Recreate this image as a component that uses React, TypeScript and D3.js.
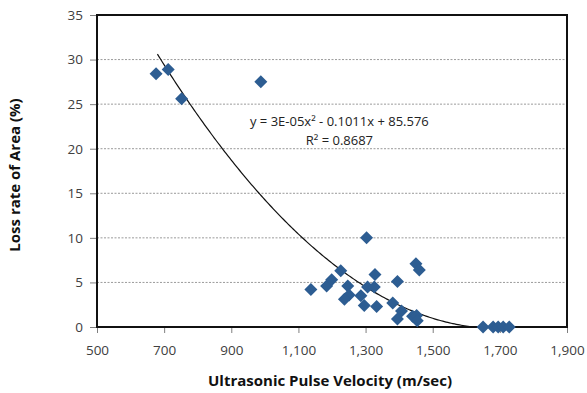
import React, { useEffect, useRef } from "react";
import * as d3 from "d3";

// velocity (m/sec) and loss rate (%)
const velocity = [
  676, 712, 752, 988,
  1137, 1184, 1199, 1226, 1247, 1251, 1237, 1286, 1296, 1303, 1306, 1326, 1328, 1333,
  1381, 1395, 1407, 1395, 1450, 1460, 1440, 1452, 1454,
  1650, 1680, 1695, 1710, 1728,
];
const lossRate = [
  28.4, 28.9, 25.6, 27.5,
  4.2, 4.6, 5.3, 6.3, 4.6, 3.6, 3.1, 3.5, 2.4, 10.0, 4.5, 4.5, 5.9, 2.3,
  2.7, 5.1, 1.8, 0.9, 7.1, 6.4, 1.2, 1.3, 0.7,
  0, 0, 0, 0, 0,
];

const xTicks = [500, 700, 900, 1100, 1300, 1500, 1700, 1900];
const yTicks = [0, 5, 10, 15, 20, 25, 30, 35];

// polynomial trendline (Excel shows the rounded form)
const trend = { a: 2.98e-5, b: -0.1011, c: 85.576 };
const trendLabel = "y = 3E-05x² - 0.1011x + 85.576";
const r2Label = "R² = 0.8687";

const W = 587;
const H = 393;
const margin = { top: 15, right: 20, bottom: 66, left: 97 };

export default function App() {
  const ref = useRef<SVGSVGElement>(null);

  useEffect(() => {
    const svg = d3.select(ref.current);
    svg.selectAll("*").remove();

    const innerW = W - margin.left - margin.right;
    const innerH = H - margin.top - margin.bottom;

    const x = d3.scaleLinear().domain([500, 1900]).range([0, innerW]);
    const y = d3.scaleLinear().domain([0, 35]).range([innerH, 0]);

    const g = svg.append("g").attr("transform", `translate(${margin.left},${margin.top})`);
    const font = "'Open Sans', sans-serif";

    // gridlines
    g.selectAll("line.grid")
      .data(yTicks.filter((t) => t > 0 && t < 35))
      .enter()
      .append("line")
      .attr("x1", 0)
      .attr("x2", innerW)
      .attr("y1", (d) => y(d))
      .attr("y2", (d) => y(d))
      .attr("stroke", "#9a9a9a")
      .attr("stroke-width", 1)
      .attr("stroke-dasharray", "2,1.5");

    // y axis
    const yAxis = g.append("g").call(d3.axisLeft(y).tickValues(yTicks).tickSize(7).tickSizeOuter(0));
    yAxis.select(".domain").remove();
    yAxis.selectAll(".tick line").attr("stroke", "#7f7f7f");
    yAxis
      .selectAll("text")
      .attr("x", -14)
      .attr("font-family", font)
      .attr("font-size", 13.5)
      .attr("fill", "#404040");

    // x axis
    const xAxis = g
      .append("g")
      .attr("transform", `translate(0,${innerH})`)
      .call(d3.axisBottom(x).tickValues(xTicks).tickSize(6).tickSizeOuter(0).tickFormat(d3.format(",")));
    xAxis.select(".domain").remove();
    xAxis.selectAll(".tick line").attr("stroke", "#7f7f7f");
    xAxis
      .selectAll("text")
      .attr("y", 18)
      .attr("font-family", font)
      .attr("font-size", 13.5)
      .attr("fill", "#404040");

    // frame
    g.append("rect")
      .attr("x", 0)
      .attr("y", 0)
      .attr("width", innerW)
      .attr("height", innerH)
      .attr("fill", "none")
      .attr("stroke", "#111")
      .attr("stroke-width", 2);

    // trendline, clipped to y >= 0
    const xs = d3.range(680, 1730, 5);
    const pts: [number, number][] = xs
      .map((v) => [v, trend.a * v * v + trend.b * v + trend.c] as [number, number])
      .filter((p) => p[1] >= -0.05);
    g.append("path")
      .datum(pts)
      .attr("fill", "none")
      .attr("stroke", "#111")
      .attr("stroke-width", 1.2)
      .attr("d", d3.line<[number, number]>().x((d) => x(d[0])).y((d) => y(Math.max(0, d[1]))));

    // markers: square-ish diamonds like Excel
    const r = 6.5;
    const diamond = `M0,${-r}L${r},0L0,${r}L${-r},0Z`;
    g.selectAll("path.pt")
      .data(velocity.map((v, i) => [v, lossRate[i]]))
      .enter()
      .append("path")
      .attr("class", "pt")
      .attr("d", diamond)
      .attr("transform", (d) => `translate(${x(d[0])},${y(d[1])})`)
      .attr("fill", "#2d5d92");

    // equation labels
    g.append("text")
      .attr("x", x(1222))
      .attr("y", y(22.6))
      .attr("text-anchor", "middle")
      .attr("font-family", font)
      .attr("font-size", 13)
      .attr("fill", "#222")
      .text(trendLabel);
    g.append("text")
      .attr("x", x(1222))
      .attr("y", y(20.4))
      .attr("text-anchor", "middle")
      .attr("font-family", font)
      .attr("font-size", 13)
      .attr("fill", "#222")
      .text(r2Label);

    // axis titles
    svg.append("text")
      .attr("x", 330)
      .attr("y", 386)
      .attr("text-anchor", "middle")
      .attr("font-family", font)
      .attr("font-weight", "bold")
      .attr("font-size", 15)
      .attr("fill", "#111")
      .text("Ultrasonic Pulse Velocity (m/sec)");
    svg.append("text")
      .attr("transform", `translate(20,${margin.top + innerH / 2 + 4}) rotate(-90)`)
      .attr("text-anchor", "middle")
      .attr("font-family", font)
      .attr("font-weight", "bold")
      .attr("font-size", 15)
      .attr("fill", "#111")
      .text("Loss rate of Area (%)");
  }, []);

  return (
    <svg
      ref={ref}
      width={W}
      height={H}
      style={{ position: "absolute", left: 0, top: 0, background: "#fff" }}
    />
  );
}
